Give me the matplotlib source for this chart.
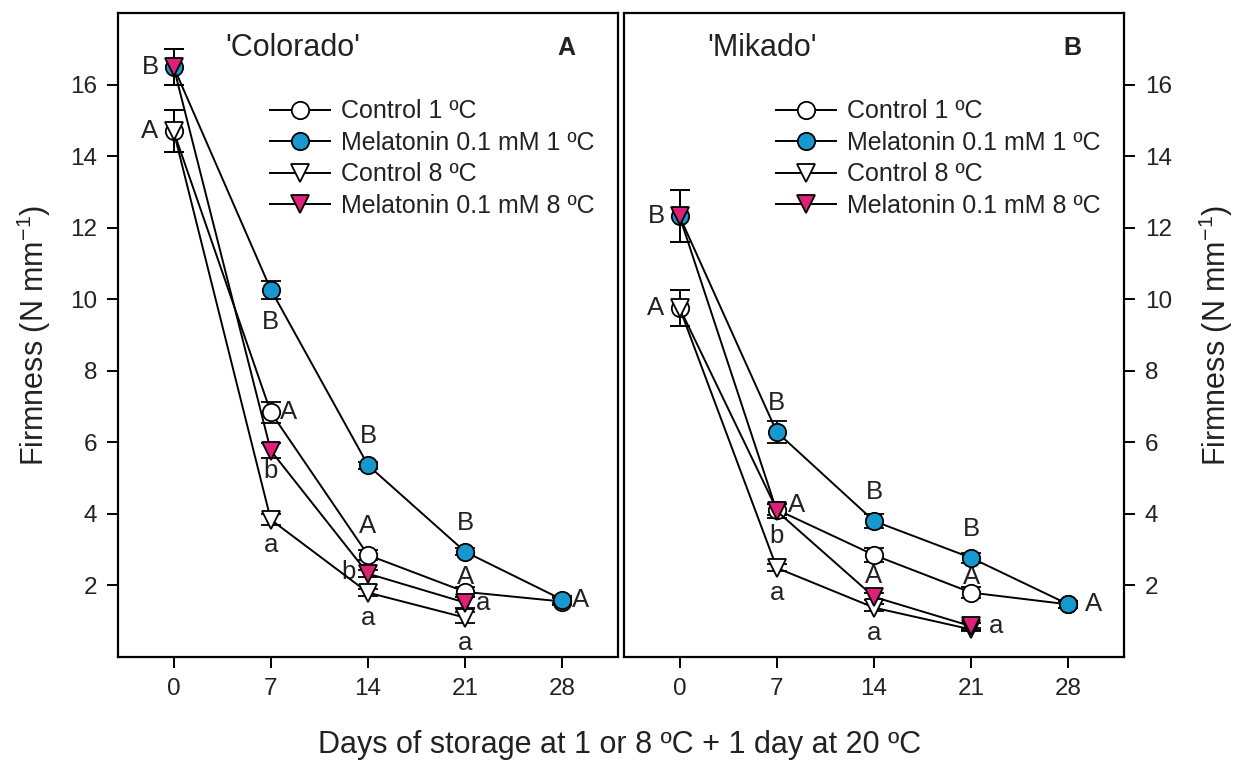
import matplotlib
matplotlib.use("Agg")
import matplotlib.pyplot as plt
from matplotlib.lines import Line2D

plt.rcParams['font.family'] = ['Liberation Sans', 'DejaVu Sans']
plt.rcParams['mathtext.fontset'] = 'custom'
plt.rcParams['mathtext.rm'] = 'Liberation Sans'
plt.rcParams['mathtext.it'] = 'Liberation Sans:italic'

TXT = '#222222'
BLUE = '#1798cf'
PINK = '#e01f78'

days_1c = [0, 7, 14, 21, 28]
days_8c = [0, 7, 14, 21]

# 'Colorado'
col_ctrl1 = [14.7, 6.84, 2.85, 1.82, 1.55]
col_ctrl1_err = [0.58, 0.3, 0.15, 0.15, 0.1]
col_mel1 = [16.5, 10.27, 5.36, 2.94, 1.6]
col_mel1_err = [0.5, 0.25, 0.1, 0.1, 0.1]
col_ctrl8 = [14.7, 3.84, 1.8, 1.1]
col_ctrl8_err = [0.58, 0.15, 0.1, 0.15]
col_mel8 = [16.5, 5.77, 2.33, 1.52]
col_mel8_err = [0.5, 0.2, 0.1, 0.15]

# 'Mikado'
mik_ctrl1 = [9.76, 4.12, 2.85, 1.8, 1.47]
mik_ctrl1_err = [0.5, 0.15, 0.2, 0.15, 0.1]
mik_mel1 = [12.32, 6.29, 3.8, 2.77, 1.47]
mik_mel1_err = [0.73, 0.3, 0.2, 0.15, 0.1]
mik_ctrl8 = [9.76, 2.49, 1.38, 0.77]
mik_ctrl8_err = [0.5, 0.1, 0.1, 0.05]
mik_mel8 = [12.32, 4.08, 1.68, 0.86]
mik_mel8_err = [0.73, 0.2, 0.1, 0.1]

labels = ['Control 1 ºC', 'Melatonin 0.1 mM 1 ºC', 'Control 8 ºC', 'Melatonin 0.1 mM 8 ºC']

# significance letters: (series, day index, letter, side)
col_letters = [
    ('mel1', 0, 'B', 'left'), ('ctrl1', 0, 'A', 'left'),
    ('mel1', 1, 'B', 'below_far'), ('ctrl1', 1, 'A', 'right'),
    ('mel8', 1, 'b', 'below_near'), ('ctrl8', 1, 'a', 'below'),
    ('mel1', 2, 'B', 'above'), ('ctrl1', 2, 'A', 'above'),
    ('mel8', 2, 'b', 'left_near'), ('ctrl8', 2, 'a', 'below'),
    ('mel1', 3, 'B', 'above'), ('ctrl1', 3, 'A', 'above_near'),
    ('mel8', 3, 'a', 'right'), ('ctrl8', 3, 'a', 'below'),
    ('mel1', 4, 'A', 'right'),
]
mik_letters = [
    ('mel1', 0, 'B', 'left'), ('ctrl1', 0, 'A', 'left'),
    ('mel1', 1, 'B', 'above'), ('ctrl1', 1, 'A', 'upright'),
    ('mel8', 1, 'b', 'below'), ('ctrl8', 1, 'a', 'below'),
    ('mel1', 2, 'B', 'above'), ('mel8', 2, 'A', 'above_mid'),
    ('ctrl8', 2, 'a', 'below'),
    ('mel1', 3, 'B', 'above'), ('ctrl1', 3, 'A', 'above_near'),
    ('mel8', 3, 'a', 'right_far'),
    ('mel1', 4, 'A', 'right_far'),
]

offsets = {'left': (-17, 0), 'left_near': (-14, 1), 'right': (13, 0),
           'right_far': (18, 0), 'upright': (14, 3),
           'above': (0, 21), 'above_mid': (0, 15), 'above_near': (0, 11),
           'below': (0, -18), 'below_near': (0, -15), 'below_far': (0, -23)}

handles = [
    Line2D([], [], color='black', lw=1.4, marker='o', mfc='white', mec='black', mew=1.3, ms=12.5),
    Line2D([], [], color='black', lw=1.4, marker='o', mfc=BLUE, mec='black', mew=1.3, ms=12.5),
    Line2D([], [], color='black', lw=1.4, marker='v', mfc='white', mec='black', mew=1.3, ms=12.5),
    Line2D([], [], color='black', lw=1.4, marker='v', mfc=PINK, mec='black', mew=1.3, ms=12.5),
]


def draw_panel(ax, data, letters, title, title_x, tag):
    styles = {
        'ctrl1': dict(marker='o', mfc='white', days=days_1c),
        'mel1': dict(marker='o', mfc=BLUE, days=days_1c),
        'ctrl8': dict(marker='v', mfc='white', days=days_8c),
        'mel8': dict(marker='v', mfc=PINK, days=days_8c),
    }
    for key in ['ctrl1', 'mel1', 'ctrl8', 'mel8']:
        st = styles[key]
        vals, errs = data[key]
        ax.errorbar(st['days'], vals, yerr=errs, color='black', lw=1.4,
                    marker=st['marker'], mfc=st['mfc'], mec='black', mew=1.3,
                    ms=12.5, capsize=7, capthick=1.3, elinewidth=1.3, zorder=3)
    for key, idx, letter, side in letters:
        st = styles[key]
        x = st['days'][idx]
        y = data[key][0][idx]
        ax.annotate(letter, (x, y), xytext=offsets[side], textcoords='offset points',
                    ha='center', va='center', fontsize=18.5, color=TXT)
    ax.text(title_x, 0.945, title, transform=ax.transAxes, ha='center', va='center',
            fontsize=22, color=TXT)
    ax.text(0.896, 0.945, tag, transform=ax.transAxes, ha='center', va='center',
            fontsize=18, fontweight='bold', color=TXT)
    ax.set_xlim(-4, 32)
    ax.set_ylim(0, 18)
    ax.set_xticks(days_1c)
    ax.set_yticks([2, 4, 6, 8, 10, 12, 14, 16])
    for s in ax.spines.values():
        s.set_linewidth(1.6)
    ax.tick_params(direction='out', length=8, width=1.4, labelsize=17.5,
                   labelcolor=TXT, pad=7)
    ax.legend(handles, labels, loc='upper left', frameon=False, fontsize=18,
              bbox_to_anchor=(0.303, 0.866), borderaxespad=0, borderpad=0,
              handlelength=2.4, handletextpad=0.45, labelspacing=0.3,
              labelcolor=TXT)


fig = plt.figure(figsize=(12.37, 7.62), dpi=100)
W, H = 1237, 762
ax1 = fig.add_axes([118 / W, 105 / H, 500 / W, 644 / H])
ax2 = fig.add_axes([624 / W, 105 / H, 500 / W, 644 / H])

draw_panel(ax1, {'ctrl1': (col_ctrl1, col_ctrl1_err), 'mel1': (col_mel1, col_mel1_err),
                 'ctrl8': (col_ctrl8, col_ctrl8_err), 'mel8': (col_mel8, col_mel8_err)},
           col_letters, "'Colorado'", 0.35, 'A')
draw_panel(ax2, {'ctrl1': (mik_ctrl1, mik_ctrl1_err), 'mel1': (mik_mel1, mik_mel1_err),
                 'ctrl8': (mik_ctrl8, mik_ctrl8_err), 'mel8': (mik_mel8, mik_mel8_err)},
           mik_letters, "'Mikado'", 0.277, 'B')

ax2.yaxis.tick_right()
ax2.yaxis.set_label_position('right')

ylab = 'Firmness (N mm$^{-1}$)'
ax1.set_ylabel(ylab, fontsize=22, color=TXT, labelpad=12)
ax2.set_ylabel(ylab, fontsize=22, color=TXT, labelpad=18)
fig.text(620 / W, 1 - 745 / H, 'Days of storage at 1 or 8 ºC + 1 day at 20 ºC',
         ha='center', va='center', fontsize=22, color=TXT)

fig.savefig('out.png', dpi=100)
